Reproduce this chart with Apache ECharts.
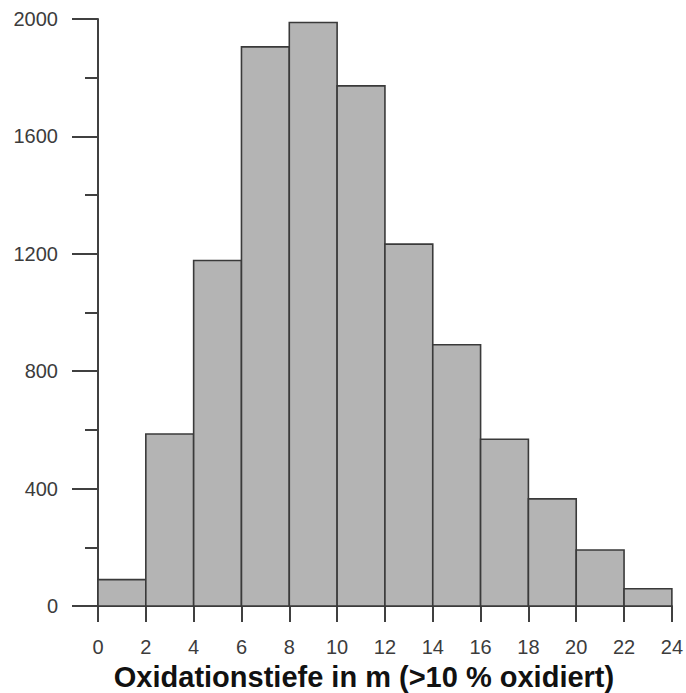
<!DOCTYPE html>
<html>
<head>
<meta charset="utf-8">
<script src="https://cdn.jsdelivr.net/npm/echarts@6/dist/echarts.min.js"></script>
<style>
    html, body { margin: 0; padding: 0; background: #fff; }
    #chart01 { width: 686px; height: 693px; }
</style>
</head>
<body>
<div id="chart01"></div>
<script>
// bin edges (m) and counts per bin
var binStart = [0, 2, 4, 6, 8, 10, 12, 14, 16, 18, 20, 22];
var binEnd = [2, 4, 6, 8, 10, 12, 14, 16, 18, 20, 22, 24];
var counts = [90, 586, 1177, 1905, 1988, 1772, 1233, 890, 568, 365, 191, 59];
var xTicks = [0, 2, 4, 6, 8, 10, 12, 14, 16, 18, 20, 22, 24];
var yTicks = [0, 400, 800, 1200, 1600, 2000];
var xTitle = 'Oxidationstiefe in m (>10 % oxidiert)';

var chart01 = echarts.init(document.getElementById("chart01"), null, {renderer: 'svg'});

var barData = [];
for (var i = 0; i < counts.length; i++) {
    barData.push([binStart[i], binEnd[i], counts[i]]);
}

function renderBar(params, api) {
    var p0 = api.coord([api.value(0), 0]);
    var p1 = api.coord([api.value(1), api.value(2)]);
    return {
        type: 'rect',
        shape: {x: p0[0], y: p1[1], width: p1[0] - p0[0], height: p0[1] - p1[1]},
        style: {fill: '#b4b4b4', stroke: '#3a3a3a', lineWidth: 1.6}
    };
}

var axisColor = '#404040';
var labelFont = {color: '#3c3c3c', fontSize: 20, fontFamily: 'Liberation Sans, Arial, sans-serif'};

var option = {
    animation: false,
    grid: {
        left: 98,
        right: 12,
        top: 19,
        bottom: 87
    },
    xAxis: {
        type: 'value',
        min: xTicks[0],
        max: xTicks[xTicks.length - 1],
        interval: 2,
        axisLine: {show: true, lineStyle: {color: axisColor, width: 2}},
        axisTick: {show: true, length: 16, lineStyle: {color: axisColor, width: 2}},
        axisLabel: Object.assign({margin: 31, formatter: function (v) { return String(v); }}, labelFont),
        splitLine: {show: false}
    },
    yAxis: {
        type: 'value',
        min: yTicks[0],
        max: yTicks[yTicks.length - 1],
        interval: 400,
        axisLine: {show: true, lineStyle: {color: axisColor, width: 2}},
        axisTick: {show: true, length: 26, lineStyle: {color: axisColor, width: 2}},
        minorTick: {show: true, splitNumber: 2, length: 13, lineStyle: {color: axisColor, width: 2}},
        axisLabel: Object.assign({margin: 40, formatter: function (v) { return String(v); }}, labelFont),
        splitLine: {show: false}
    },
    graphic: [{
        type: 'text',
        x: 364,
        y: 677,
        style: {
            text: xTitle,
            fill: '#111',
            fontSize: 29,
            fontWeight: 'bold',
            fontFamily: 'Liberation Sans, Arial, sans-serif',
            align: 'center',
            verticalAlign: 'middle'
        }
    }],
    series: [{
        type: 'custom',
        renderItem: renderBar,
        encode: {x: [0, 1], y: 2},
        data: barData,
        z: 1
    }]
};

if (option && typeof option === "object") {
    chart01.setOption(option, true);
}
</script>
</body>
</html>
